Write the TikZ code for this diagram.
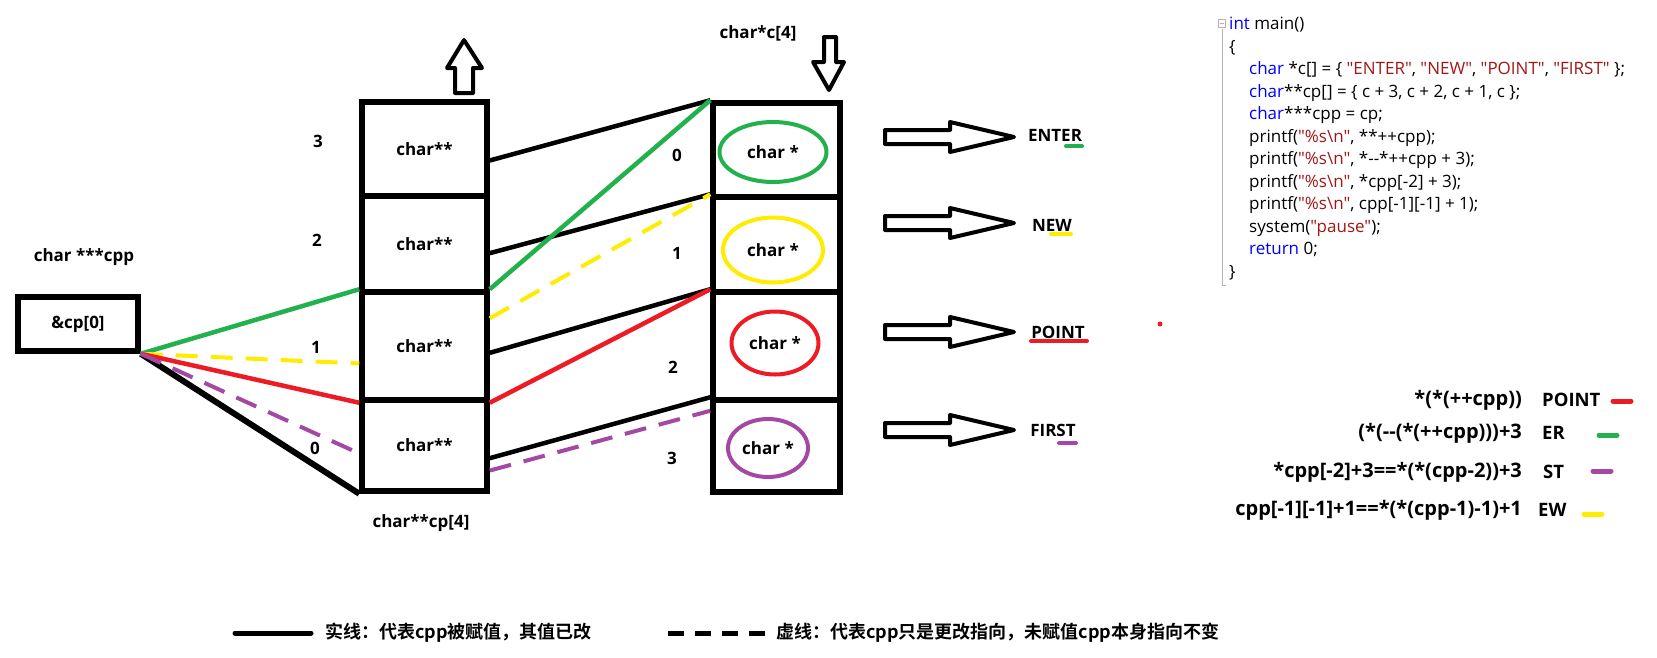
\documentclass[tikz,border=0pt]{standalone}
\usepackage{fontspec}
\setmainfont{Open Sans}
\newfontfamily\codefont{Open Sans}
\newfontfamily\cjk{Noto Sans CJK SC}[BoldFont={Noto Sans CJK SC Bold}]
\usetikzlibrary{shapes.geometric}

\definecolor{pgreen}{RGB}{34,177,76}
\definecolor{pyellow}{RGB}{255,236,0}
\definecolor{pred}{RGB}{237,28,36}
\definecolor{ppurple}{RGB}{163,73,164}
\definecolor{kwblue}{RGB}{0,0,255}
\definecolor{strred}{RGB}{163,21,21}

\newcommand\kw[1]{\textcolor{kwblue}{#1}}
\newcommand\str[1]{\textcolor{strred}{"#1"}}

\tikzstyle{cell}=[shape=rectangle,
                  draw=black,
                  line width=5.5pt,
                  inner sep=0pt,
                  font=\bfseries\fontsize{17}{20}\selectfont]
\tikzstyle{oval}=[shape=ellipse,
                  line width=4pt,
                  inner sep=0pt,
                  font=\bfseries\fontsize{17}{20}\selectfont]
\tikzstyle{lbl}=[inner sep=0pt,
                 font=\bfseries\fontsize{17}{20}\selectfont]
\tikzstyle{expr}=[inner sep=0pt,anchor=east,
                  font=\bfseries\fontsize{20}{22}\selectfont]
\tikzstyle{res}=[inner sep=0pt,anchor=west,
                 font=\bfseries\fontsize{18.5}{22}\selectfont]
\tikzstyle{link}=[line width=4.5pt]
\tikzstyle{move}=[line width=4pt,dash pattern=on 22pt off 13pt]
\tikzstyle{hollow}=[line width=4pt,line join=round]

\begin{document}
\begin{tikzpicture}[x=1pt,y=-1pt]
\useasboundingbox (0,0) rectangle (1657,657);

% the pointer cpp
\node[lbl] (cpplbl) at (84,257) {char ***cpp};
\node[cell,minimum width=120pt,minimum height=54pt] (ptr) at (78,324) {\&cp[0]};

% array cp
\node[cell,minimum width=125pt,minimum height=94pt]  (cp3) at (424.5,149)   {char**};
\node[cell,minimum width=125pt,minimum height=96pt]  (cp2) at (424.5,244)   {char**};
\node[cell,minimum width=125pt,minimum height=108pt] (cp1) at (424.5,346)   {char**};
\node[cell,minimum width=125pt,minimum height=91pt]  (cp0) at (424.5,445.5) {char**};
\node[lbl] (cplbl) at (421,523) {char**cp[4]};
\node[lbl] (i3) at (318,141) {3};
\node[lbl] (i2) at (317,240) {2};
\node[lbl] (i1) at (316,347) {1};
\node[lbl] (i0) at (315,448) {0};

% array c
\node[cell,minimum width=127pt,minimum height=94pt]  (c0) at (776.5,150) {};
\node[cell,minimum width=127pt,minimum height=95pt]  (c1) at (776.5,244.5) {};
\node[cell,minimum width=127pt,minimum height=108pt] (c2) at (776.5,346) {};
\node[cell,minimum width=127pt,minimum height=92pt]  (c3) at (776.5,446) {};
\node[lbl] (clbl) at (758,33) {char*c[4]};
\node[lbl] (j0) at (677,155) {0};
\node[lbl] (j1) at (677,253) {1};
\node[lbl] (j2) at (673,367) {2};
\node[lbl] (j3) at (672,458) {3};

% the strings
\node[oval,draw=pgreen,minimum width=107pt,minimum height=60pt]  (s0) at (773,152) {char *};
\node[oval,draw=pyellow,minimum width=100pt,minimum height=65pt] (s1) at (773,250) {char *};
\node[oval,draw=pred,minimum width=87pt,minimum height=63pt]     (s2) at (775,343) {char *};
\node[oval,draw=ppurple,minimum width=80pt,minimum height=58pt]  (s3) at (768,448) {char *};

% block arrows
\draw[hollow] (455,93) -- (455,68) -- (447,68) -- (464,40) -- (482,68) -- (473,68) -- (473,93) -- cycle;
\draw[hollow] (824,37) -- (836,37) -- (836,62) -- (844,62) -- (829,90) -- (813,62) -- (824,62) -- cycle;
\foreach \y in {137,223,332,430}
  \draw[hollow] (885,\y-7) -- (950,\y-7) -- (950,\y-15) -- (1014,\y)
                -- (950,\y+15) -- (950,\y+7) -- (885,\y+7) -- cycle;

% words
\node[lbl] (w0) at (1055,135) {ENTER};
\node[lbl] (w1) at (1052,225) {NEW};
\node[lbl] (w2) at (1058,332) {POINT};
\node[lbl] (w3) at (1053,430) {FIRST};
\draw[pgreen,line width=4pt,line cap=round]  (1066,146) -- (1082,146);
\draw[pyellow,line width=4pt,line cap=round] (1051,234) -- (1071,234);
\draw[pred,line width=4pt,line cap=round]    (1031,341) -- (1087,341);
\draw[ppurple,line width=4pt,line cap=round] (1059,443) -- (1076,443);
\fill[pred] (1160,324) circle (2.5);

% paths cp -> c
\path[link] (cp3.-10) edge (c0.north west)
            (cp2.-8)  edge (c1.north west)
            (cp1.-6)  edge (c2.north west)
            (cp0.-11) edge (c3.north west);
\path[link,pgreen]        (cp1.north east) edge (c0.north west);
\path[move,pyellow]       (cp1.23)         edge (c1.north west);
\path[link,pred]          (cp1.south east) edge (c2.north west);
\path[move,ppurple]       (cp0.-21)        edge (c3.152);

% paths cpp -> cp
\path[link,line width=6pt] (ptr.south east) edge (cp0.south west);
\path[link,pgreen]         (ptr.south east) edge (cp1.north west);
\path[move,pyellow]        (ptr.south east) edge (cp1.195);
\path[link,pred]           (ptr.south east) edge (cp1.south west);
\path[move,ppurple]        (ptr.south east) edge (cp0.187);

% source code
\draw[gray!60,line width=0.8pt] (1222,29) -- (1222,285) -- (1226,285);
\draw[gray!60,line width=0.6pt] (1218.5,19.5) rectangle (1225.5,27.5);
\draw[gray!60,line width=0.6pt] (1220,23.5) -- (1224,23.5);
\node[anchor=north west,inner sep=0pt,align=left,font=\codefont\fontsize{17}{22.5}\selectfont] (code) at (1229,17) {%
\kw{int} main()\\
\{\\
\hspace*{20pt}\kw{char} *c[] = \{ \str{ENTER}, \str{NEW}, \str{POINT}, \str{FIRST} \};\\
\hspace*{20pt}\kw{char}**cp[] = \{ c + 3, c + 2, c + 1, c \};\\
\hspace*{20pt}\kw{char}***cpp = cp;\\
\hspace*{20pt}printf(\str{\%s\textbackslash n}, **++cpp);\\
\hspace*{20pt}printf(\str{\%s\textbackslash n}, *--*++cpp + 3);\\
\hspace*{20pt}printf(\str{\%s\textbackslash n}, *cpp[-2] + 3);\\
\hspace*{20pt}printf(\str{\%s\textbackslash n}, cpp[-1][-1] + 1);\\
\hspace*{20pt}system(\str{pause});\\
\hspace*{20pt}\kw{return} 0;\\
\}};

% results
\node[expr] (r0) at (1522,400) {*(*(++cpp))};
\node[expr] (r1) at (1522,433) {(*(-{}-(*(++cpp)))+3};
\node[expr] (r2) at (1522,472) {*cpp[-2]+3==*(*(cpp-2))+3};
\node[expr] (r3) at (1522,510) {cpp[-1][-1]+1==*(*(cpp-1)-1)+1};
\node[res] (o0) at (1542,400) {POINT};
\node[res] (o1) at (1542,433) {ER};
\node[res] (o2) at (1543,472) {ST};
\node[res] (o3) at (1538,510) {EW};
\draw[pred,line width=5pt,line cap=round]    (1613,401) -- (1631,401);
\draw[pgreen,line width=5pt,line cap=round]  (1599,435) -- (1617,435);
\draw[ppurple,line width=5pt,line cap=round] (1593,471) -- (1611,471);
\draw[pyellow,line width=5pt,line cap=round] (1584,514) -- (1602,514);

% legend
\draw[line width=5pt,line cap=round] (235,633) -- (311,633);
\node[anchor=west,inner sep=0pt,font=\cjk\bfseries\fontsize{18}{20}\selectfont] (leg1) at (325,633) {实线：代表cpp被赋值，其值已改};
\draw[line width=5pt,dash pattern=on 16pt off 11pt] (668,633) -- (765,633);
\node[anchor=west,inner sep=0pt,font=\cjk\bfseries\fontsize{18}{20}\selectfont] (leg2) at (776,633) {虚线：代表cpp只是更改指向，未赋值cpp本身指向不变};
\end{tikzpicture}
\end{document}
